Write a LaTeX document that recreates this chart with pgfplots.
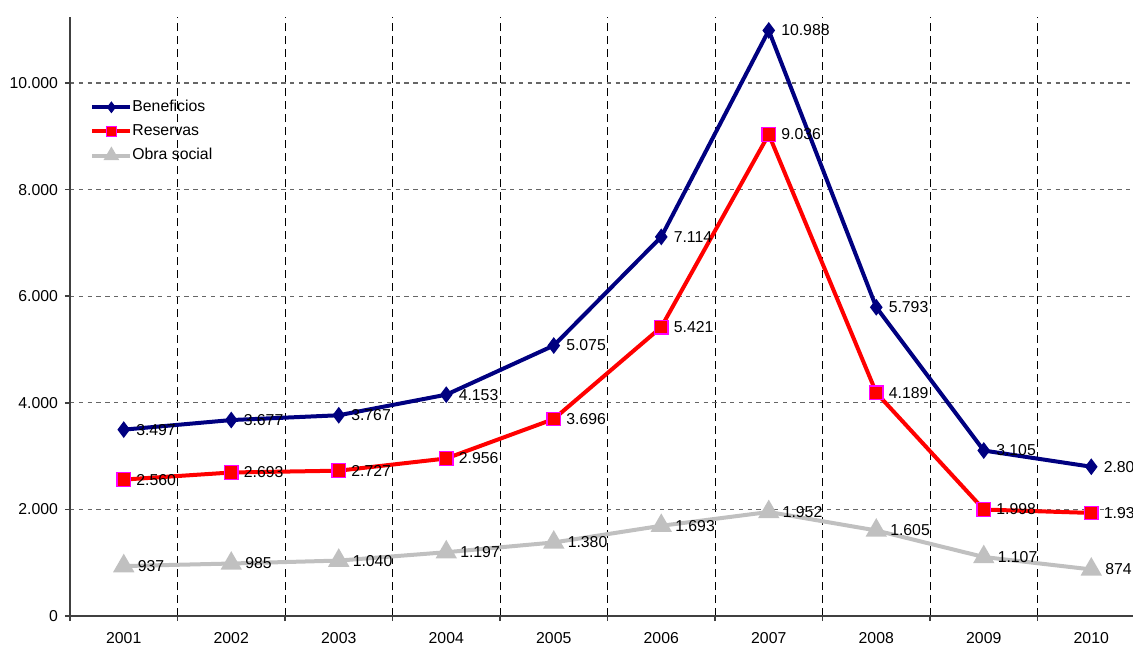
\documentclass[border=0pt]{standalone}
\usepackage{fontspec}
\setmainfont{Liberation Sans}
\usepackage{pgfplots}
\pgfplotsset{compat=1.18}

\definecolor{benef}{HTML}{000080}
\definecolor{reserv}{HTML}{FF0000}
\definecolor{resborde}{HTML}{FF00FF}
\definecolor{obra}{HTML}{C0C0C0}
\definecolor{ejes}{HTML}{404040}
\newcommand{\chartfont}{\fontsize{7.9}{9}\selectfont}

\begin{document}
\begin{tikzpicture}
\begin{axis}[
    at={(0,0)}, anchor=south west,
    scale only axis,
    width=537.5pt, height=299.5pt,
    xmin=-0.5, xmax=9.5,
    ymin=0, ymax=11240,
    axis lines=left,
    axis line style={-, draw=ejes, line width=1pt},
    clip=false,
    xtick={0,...,9},
    xticklabels={2001,2002,2003,2004,2005,2006,2007,2008,2009,2010},
    minor xtick={-0.5,0.5,...,9.5},
    ytick={0,2000,...,10000},
    scaled y ticks=false,
    tick align=outside,
    major tick length=2.5pt,
    minor tick length=2.5pt,
    every major x tick/.append style={draw=none},
    every tick/.append style={ejes, line width=0.8pt},
    xminorgrids=true,
    ymajorgrids=true,
    minor x grid style={black, line width=0.5pt, dash pattern=on 4pt off 2.5pt},
    major y grid style={black!60, line width=0.6pt, dash pattern=on 2.2pt off 2.2pt},
    tick label style={font=\chartfont},
    xticklabel style={yshift=-2pt},
    /pgf/number format/fixed,
    /pgf/number format/precision=0,
    /pgf/number format/1000 sep={.},
    /pgf/number format/assume math mode=true,
    nodes near coords,
    every node near coord/.append style={anchor=west, xshift=6pt, inner sep=0pt, font=\chartfont, text=black},
    legend style={at={(0.0186,0.862)}, anchor=north west, draw=none, fill=none,
        font=\chartfont, inner sep=0pt, row sep=5pt,
        nodes={inner sep=0pt}},
    legend cell align=left,
    legend image code/.code={%
        \draw[mark repeat=2, mark phase=2, mark size=2.6pt]
        plot coordinates {(0pt,0pt) (9.5pt,0pt) (19pt,0pt)};},
]

\addplot[benef, line width=2pt, mark=diamond*, mark size=3.8pt,
    mark options={solid, fill=benef, line width=0.5pt}] coordinates {
    (0,3497) (1,3677) (2,3767) (3,4153) (4,5075)
    (5,7114) (6,10988) (7,5793) (8,3105) (9,2801)
};
\addlegendentry{Beneficios}

\addplot[reserv, line width=2pt, mark=square*, mark size=3.4pt,
    mark options={solid, fill=reserv, draw=resborde, line width=0.6pt}] coordinates {
    (0,2560) (1,2693) (2,2727) (3,2956) (4,3696)
    (5,5421) (6,9036) (7,4189) (8,1998) (9,1934)
};
\addlegendentry{Reservas}

\addplot[obra, line width=2pt, mark=triangle*, mark size=4.2pt,
    mark options={solid, fill=obra}] coordinates {
    (0,937) (1,985) (2,1040) (3,1197) (4,1380)
    (5,1693) (6,1952) (7,1605) (8,1107) (9,874)
};
\addlegendentry{Obra social}

\end{axis}
\pgfresetboundingbox
\path[use as bounding box] (-35pt,-14pt) rectangle (531.5pt,308pt);
\end{tikzpicture}
\end{document}
